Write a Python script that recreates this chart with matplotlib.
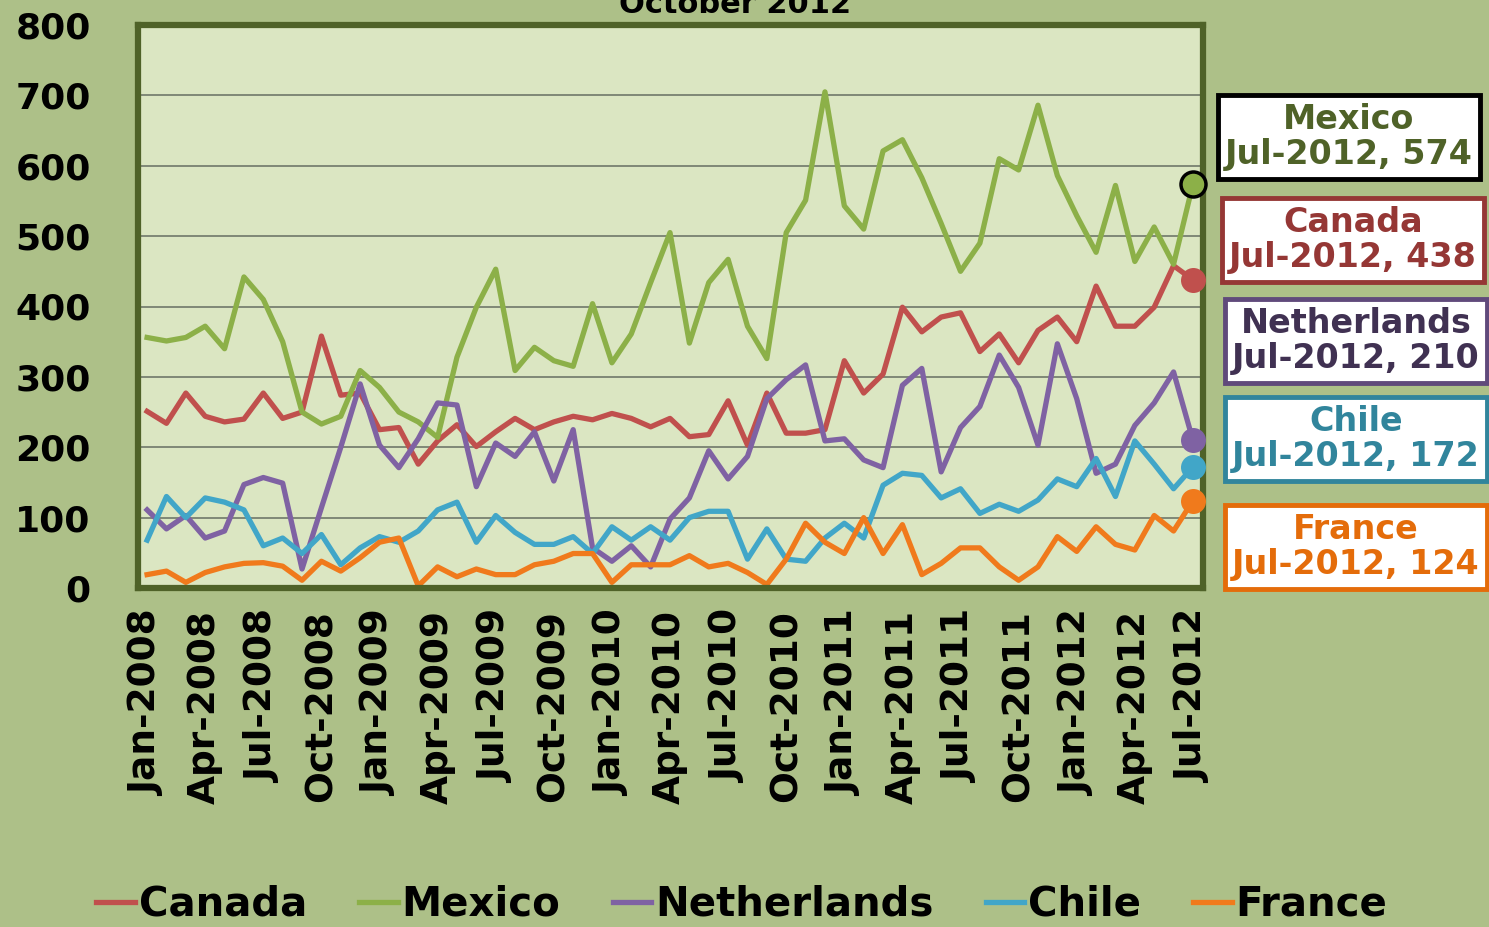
import numpy as np
import matplotlib
matplotlib.use("Agg")
from matplotlib import pyplot as plt

# Month labels (every 3rd month is shown on the axis)
tick_labels = ["Jan-2008", "Apr-2008", "Jul-2008", "Oct-2008",
               "Jan-2009", "Apr-2009", "Jul-2009", "Oct-2009",
               "Jan-2010", "Apr-2010", "Jul-2010", "Oct-2010",
               "Jan-2011", "Apr-2011", "Jul-2011", "Oct-2011",
               "Jan-2012", "Apr-2012", "Jul-2012"]

# Monthly values Jan-2008 .. Jul-2012 (55 months)
canada = [251, 234, 277, 244, 236, 240, 277, 241, 250, 358,
          274, 277, 225, 228, 176, 209, 232, 201, 222, 241,
          225, 236, 244, 239, 248, 241, 229, 241, 215, 218,
          266, 203, 277, 220, 220, 225, 323, 277, 304, 399,
          364, 385, 391, 336, 361, 320, 366, 385, 350, 429,
          372, 372, 399, 458, 438]
mexico = [356, 351, 356, 372, 340, 442, 410, 350, 250, 233,
          244, 309, 285, 250, 236, 214, 328, 399, 453, 309,
          342, 323, 315, 404, 320, 361, 434, 505, 348, 434,
          467, 372, 326, 505, 551, 705, 543, 510, 621, 637,
          583, 518, 450, 490, 610, 594, 686, 586, 529, 477,
          572, 464, 513, 460, 574]
netherlands = [111, 84, 103, 71, 81, 147, 157, 149, 27, 114,
               200, 290, 203, 171, 212, 263, 260, 144, 206, 187,
               222, 152, 225, 57, 38, 60, 30, 98, 128, 195,
               155, 187, 269, 296, 317, 209, 212, 182, 171, 288,
               312, 165, 228, 258, 331, 285, 203, 347, 269, 163,
               176, 231, 263, 307, 210]
chile = [68, 130, 100, 128, 122, 111, 60, 71, 49, 76,
         33, 57, 73, 65, 81, 111, 122, 65, 103, 79,
         62, 62, 73, 49, 87, 68, 87, 68, 100, 109,
         109, 41, 84, 41, 38, 71, 92, 71, 146, 163,
         160, 128, 141, 106, 119, 109, 125, 155, 144, 184,
         130, 209, 176, 141, 172]
france = [19, 24, 8, 22, 30, 35, 36, 31, 11, 38,
          24, 43, 65, 71, 3, 30, 16, 27, 19, 19,
          33, 38, 49, 49, 8, 33, 33, 33, 46, 30,
          35, 22, 5, 41, 92, 65, 49, 100, 49, 90,
          19, 35, 57, 57, 30, 11, 30, 73, 52, 87,
          62, 54, 103, 81, 124]

series = [
    # name, values, line colour, box edge, box text colour
    ("Canada", canada, "#c0504d", "#953735", "#953735"),
    ("Mexico", mexico, "#8cb048", "#000000", "#4f6228"),
    ("Netherlands", netherlands, "#7f62a3", "#604a7b", "#403152"),
    ("Chile", chile, "#41a6c8", "#31859c", "#31859c"),
    ("France", france, "#f07a1c", "#e46c0a", "#e46c0a"),
]
# centre (pixels from top-left) of each callout box
box_y = {"Mexico": 137, "Canada": 240, "Netherlands": 341, "Chile": 439, "France": 547}
box_x = {"Mexico": 1349, "Canada": 1353, "Netherlands": 1356, "Chile": 1356, "France": 1356}

W, H = 1489, 927
plt.rcParams['font.family'] = ['DejaVu Sans']
plt.rcParams['font.weight'] = 'bold'

fig = plt.figure(figsize=(W / 100, H / 100), dpi=100)
fig.patch.set_facecolor("#adc088")
ax = fig.add_axes([138 / W, 1 - 588 / H, (1203 - 138) / W, (588 - 25) / H])
ax.set_facecolor("#dbe6c2")

x = np.arange(len(canada))
for name, vals, col, ecol, tcol in series:
    ax.plot(x, vals, color=col, lw=3.8, label=name)
    ax.plot(x[-1], vals[-1], 'o', ms=18, color=col,
            mec="black" if name == "Mexico" else col, mew=2.5 if name == "Mexico" else 0,
            clip_on=False, zorder=5)
    fig.text(box_x[name] / W, 1 - box_y[name] / H,
             "{}\n{}, {}".format(name, "Jul-2012", vals[-1]),
             ha='center', va='center', fontsize=24, color=tcol, fontweight='bold',
             linespacing=1.1,
             bbox=dict(boxstyle='square,pad=0.22', fc='white', ec=ecol, lw=3.5))

ax.set_xlim(-0.47, len(canada) - 0.48)
ax.set_ylim(0, 800)
ax.set_yticks(range(0, 801, 100))
ax.set_yticklabels([str(v) for v in range(0, 801, 100)], fontsize=26, fontweight='bold')
ax.set_xticks(x[::3])
ax.set_xticklabels(tick_labels, rotation=90, fontsize=27, fontweight='bold')
ax.tick_params(axis='both', length=0, colors='black')
ax.tick_params(axis='x', pad=16)
ax.tick_params(axis='y', pad=34)
ax.grid(axis='y', color='#70786a', lw=1.2)
ax.set_axisbelow(True)
for sp in ax.spines.values():
    sp.set_color("#4f6228")
    sp.set_linewidth(4.5)

# title sits mostly above the picture's top edge, as in the original
fig.text(735 / W, 1 - 13 / H, "October 2012", ha='center', va='baseline',
         fontsize=22, fontweight='bold')

fig.legend(loc='center', bbox_to_anchor=(742 / W, 1 - 905 / H), ncol=5,
           frameon=False, handlelength=0.95, handletextpad=0.1,
           columnspacing=1.3, prop={'weight': 'bold', 'size': 29})

fig.savefig("out.png", dpi=100, facecolor=fig.get_facecolor())
